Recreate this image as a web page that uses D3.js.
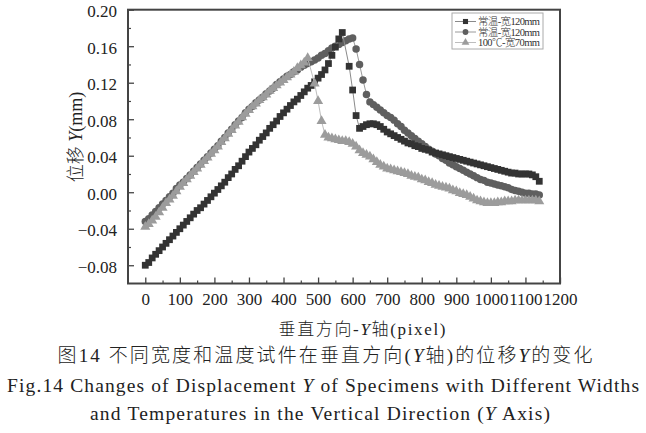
<!DOCTYPE html>
<html><head><meta charset="utf-8">
<script src="https://cdn.jsdelivr.net/npm/d3@7"></script>
<style>
body{margin:0;background:#fff;}
svg{display:block;}
</style></head>
<body>
<svg id="chart" width="646" height="433"></svg>
<script>
// ---------- data ----------
const xs = [0,10,20,30,40,50,60,70,80,90,100,110,120,130,140,150,160,170,180,190,200,210,220,230,240,250,260,270,280,290,300,310,320,330,340,350,360,370,380,390,400,410,420,430,440,450,460,470,480,490,500,510,520,530,540,550,560,570,580,590,600,610,620,630,640,650,660,670,680,690,700,710,720,730,740,750,760,770,780,790,800,810,820,830,840,850,860,870,880,890,900,910,920,930,940,950,960,970,980,990,1000,1010,1020,1030,1040,1050,1060,1070,1080,1090,1100,1110,1120,1130,1140];

const s1 = [-0.080,-0.077,-0.072,-0.068,-0.064,-0.060,-0.056,-0.052,-0.048,-0.044,
-0.040,-0.036,-0.032,-0.028,-0.024,-0.020,-0.017,-0.013,-0.009,-0.005,
-0.001,0.003,0.007,0.011,0.016,0.020,0.025,0.029,0.034,0.039,
0.044,0.048,0.052,0.057,0.061,0.065,0.070,0.074,0.078,0.083,
0.087,0.091,0.095,0.099,0.102,0.106,0.110,0.114,0.117,0.121,
0.125,0.129,0.134,0.141,0.150,0.159,0.168,0.175,null,0.138,
0.112,0.084,0.070,0.072,0.074,0.075,0.075,0.074,0.072,0.069,
0.066,0.064,0.062,0.060,0.058,0.056,0.054,0.053,0.051,0.050,
0.048,0.047,0.046,0.044,0.043,0.042,0.041,0.040,0.039,0.038,
0.037,0.036,0.035,0.034,0.033,0.032,0.031,0.030,0.029,0.028,
0.027,0.026,0.025,0.024,0.023,0.022,0.021,0.021,0.020,0.020,
0.020,0.020,0.019,0.017,0.012];

const s2 = [-0.032,-0.029,-0.025,-0.021,-0.017,-0.013,-0.009,-0.005,-0.001,0.004,
0.008,0.011,0.015,0.019,0.023,0.027,0.031,0.035,0.039,0.043,
0.047,0.051,0.056,0.060,0.065,0.069,0.074,0.078,0.082,0.087,
0.091,0.094,0.098,0.101,0.104,0.108,0.111,0.114,0.118,0.121,
0.124,0.127,0.129,0.132,0.134,0.137,0.139,0.141,0.143,0.145,
0.147,0.150,0.152,0.155,0.158,0.160,0.162,0.164,0.166,0.168,
0.169,0.157,0.140,0.123,0.107,0.099,0.096,0.093,0.090,0.087,
0.084,0.082,0.079,0.075,0.072,0.068,0.065,0.062,0.059,0.056,
0.053,0.050,0.047,0.045,0.042,0.040,0.037,0.035,0.032,0.030,
0.028,0.026,0.024,0.022,0.020,0.018,0.016,0.014,0.013,0.011,
0.010,0.009,0.008,0.007,0.006,0.005,0.003,0.002,0.001,0.000,
-0.001,-0.001,-0.002,-0.002,-0.003];

const s3 = [-0.038,-0.035,-0.031,-0.027,-0.022,-0.017,-0.012,-0.008,-0.004,0.001,
0.006,0.010,0.014,0.018,0.022,0.026,0.030,0.034,0.038,0.042,
0.046,0.050,0.055,0.059,0.064,0.068,0.073,0.077,0.082,0.086,
0.090,0.094,0.097,0.101,0.104,0.107,0.111,0.114,0.117,0.120,
0.123,0.126,0.129,0.132,0.136,0.139,0.142,0.147,null,0.119,
0.100,0.078,0.063,0.060,0.059,0.058,0.057,0.056,0.056,0.055,
0.053,0.050,0.046,0.043,0.041,0.039,0.036,0.033,0.030,0.028,
0.026,0.025,0.024,0.023,0.022,0.021,0.020,0.018,0.017,0.016,
0.014,0.013,0.011,0.010,0.008,0.007,0.006,0.005,0.004,0.002,
0.001,-0.001,-0.002,-0.003,-0.005,-0.007,-0.009,-0.010,-0.011,-0.012,
-0.012,-0.012,-0.011,-0.011,-0.010,-0.010,-0.010,-0.009,-0.009,-0.009,
-0.009,-0.009,-0.009,-0.009,-0.010];

const seriesNames = ["常温-宽120mm","常温-宽120mm","100℃-宽70mm"];
const xTicks = [0,100,200,300,400,500,600,700,800,900,1000,1100,1200];
const yTicks = [-0.08,-0.04,0.00,0.04,0.08,0.12,0.16,0.20];
const yTickLabels = ["\u22120.08","\u22120.04","0.00","0.04","0.08","0.12","0.16","0.20"];

// ---------- layout ----------
const L = 128, R = 560, T = 9.7, B = 283.5;
const serif = "'Liberation Serif','Times New Roman','Noto Sans CJK SC',serif";
const cjk = "'Liberation Serif','Noto Sans CJK SC',serif";
const svg = d3.select("#chart");
const x = d3.scaleLinear().domain([-50,1200]).range([L,R]);
const y = d3.scaleLinear().domain([-0.10,0.20]).range([B,T]);
const axisColor = "#444";

const xMinor = xTicks.slice(0,-1).map(v=>v+50);

const gx = svg.append("g").attr("transform",`translate(0,${B})`)
  .call(d3.axisBottom(x).tickValues(xTicks).tickSizeInner(-6).tickSizeOuter(0).tickPadding(13).tickFormat(d3.format("d")));
gx.select(".domain").remove();
gx.selectAll(".tick line").attr("stroke",axisColor).attr("stroke-width",1.3);
gx.selectAll(".tick text").attr("font-family",serif).attr("font-size",17).attr("fill","#222").attr("dy","0.5em");
const gxm = svg.append("g").attr("transform",`translate(0,${B})`)
  .call(d3.axisBottom(x).tickValues(xMinor).tickSizeInner(-3).tickSizeOuter(0).tickFormat(""));
gxm.select(".domain").remove();
gxm.selectAll(".tick line").attr("stroke",axisColor).attr("stroke-width",1.2);

const gy = svg.append("g").attr("transform",`translate(${L},0)`)
  .call(d3.axisLeft(y).tickValues(yTicks).tickSizeInner(-6).tickSizeOuter(0).tickPadding(11)
    .tickFormat((d,i)=>yTickLabels[i]));
gy.select(".domain").remove();
gy.selectAll(".tick line").attr("stroke",axisColor).attr("stroke-width",1.3);
gy.selectAll(".tick text").attr("font-family",serif).attr("font-size",17).attr("fill","#222").attr("dy","0.42em");
const gym = svg.append("g").attr("transform",`translate(${L},0)`)
  .call(d3.axisLeft(y).tickValues([-0.06,-0.02,0.02,0.06,0.10,0.14,0.18]).tickSizeInner(-3).tickSizeOuter(0).tickFormat(""));
gym.select(".domain").remove();
gym.selectAll(".tick line").attr("stroke",axisColor).attr("stroke-width",1.2);

// frame
svg.append("rect").attr("x",L).attr("y",T).attr("width",R-L).attr("height",B-T)
  .attr("fill","none").attr("stroke",axisColor).attr("stroke-width",2);

// ---------- series ----------
const styles = [
  {data:s1, fill:"#333333", line:"#8a8a8a", shape:"square"},
  {data:s2, fill:"#5f5f5f", line:"#9a9a9a", shape:"circle"},
  {data:s3, fill:"#9c9c9c", line:"#bdbdbd", shape:"triangle"}
];
const symbolOf = {square:d3.symbolSquare, circle:d3.symbolCircle, triangle:d3.symbolTriangle};
const sizeOf = {square:46, circle:44, triangle:44};
const plotG = svg.append("g");
const lineGen = d3.line().x(d=>x(d[0])).y(d=>y(d[1]));
const drawOrder = [1,0,2];
drawOrder.forEach(k=>{
  const st = styles[k];
  const pts = xs.map((v,i)=>[v, st.data[i]]).filter(p=>p[1]!==null);
  const g = plotG.append("g");
  g.append("path").attr("d",lineGen(pts)).attr("fill","none").attr("stroke",st.line).attr("stroke-width",1);
  g.selectAll("path.m").data(pts).enter().append("path").attr("class","m")
    .attr("transform",d=>`translate(${x(d[0])},${y(d[1])})`)
    .attr("d",d3.symbol().type(symbolOf[st.shape]).size(sizeOf[st.shape]))
    .attr("fill",st.fill);
});

// ---------- legend ----------
const lg = svg.append("g");
lg.append("rect").attr("x",452).attr("y",13).attr("width",91).attr("height",36)
  .attr("fill","#fff").attr("stroke","#aaa").attr("stroke-width",1);
seriesNames.forEach((name,i)=>{
  const yy = 21.5 + i*10.5;
  const st = styles[i];
  lg.append("line").attr("x1",455).attr("x2",476).attr("y1",yy).attr("y2",yy).attr("stroke",st.line).attr("stroke-width",1);
  lg.append("path").attr("transform",`translate(465.5,${yy})`)
    .attr("d",d3.symbol().type(symbolOf[st.shape]).size(26)).attr("fill",st.fill);
  lg.append("text").attr("x",478).attr("y",yy+3.8).attr("font-family",cjk).attr("font-weight",300)
    .attr("font-size",10.5).attr("fill","#333").attr("textLength",62).attr("lengthAdjust","spacing").text(name);
});

// ---------- axis titles ----------
const xt = svg.append("text").attr("x",362).attr("y",335).attr("text-anchor","middle")
  .attr("font-family",cjk).attr("font-weight",300).attr("font-size",17).attr("fill","#222")
  .attr("textLength",167).attr("lengthAdjust","spacing");
xt.append("tspan").text("垂直方向-");
xt.append("tspan").attr("font-style","italic").text("Y");
xt.append("tspan").text("轴(pixel)");

const yt = svg.append("text").attr("transform","translate(82,137) rotate(-90)").attr("text-anchor","middle")
  .attr("font-family",cjk).attr("font-weight",300).attr("font-size",18).attr("fill","#222");
yt.append("tspan").text("位移");
yt.append("tspan").attr("font-style","italic").text(" Y");
yt.append("tspan").text("(mm)");

// ---------- captions ----------
const c1 = svg.append("text").attr("x",325).attr("y",362).attr("text-anchor","middle")
  .attr("font-family",cjk).attr("font-weight",300).attr("font-size",19).attr("fill","#222")
  .attr("textLength",535).attr("lengthAdjust","spacing");
c1.append("tspan").text("图14 不同宽度和温度试件在垂直方向(");
c1.append("tspan").attr("font-style","italic").text("Y");
c1.append("tspan").text("轴)的位移");
c1.append("tspan").attr("font-style","italic").text("Y");
c1.append("tspan").text("的变化");

const c2 = svg.append("text").attr("x",323).attr("y",392).attr("text-anchor","middle")
  .attr("font-family",serif).attr("font-size",19.5).attr("fill","#222")
  .attr("textLength",632).attr("lengthAdjust","spacing");
c2.append("tspan").text("Fig.14 Changes of Displacement ");
c2.append("tspan").attr("font-style","italic").text("Y");
c2.append("tspan").text(" of Specimens with Different Widths");

const c3 = svg.append("text").attr("x",320).attr("y",420).attr("text-anchor","middle")
  .attr("font-family",serif).attr("font-size",19.5).attr("fill","#222")
  .attr("textLength",460).attr("lengthAdjust","spacing");
c3.append("tspan").text("and Temperatures in the Vertical Direction (");
c3.append("tspan").attr("font-style","italic").text("Y");
c3.append("tspan").text(" Axis)");
</script>
</body></html>
